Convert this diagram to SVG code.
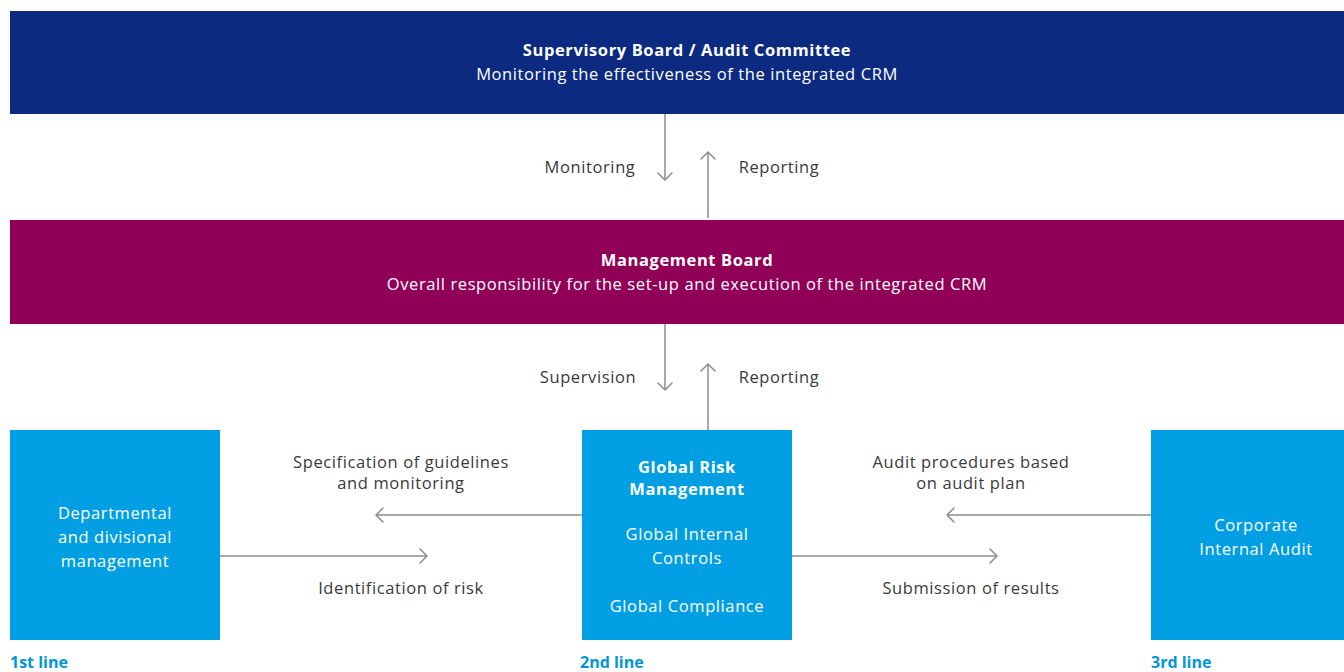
<svg xmlns="http://www.w3.org/2000/svg" width="1344" height="672" viewBox="0 0 1344 672">
<defs>
<style>
.t{font-family:"Open Sans","Liberation Sans",sans-serif;font-size:16.5px;letter-spacing:0.6px;text-anchor:middle}
.w{fill:#ffffff}
.d{fill:#3a3a3a}
.b{font-weight:bold}
.ln{font-family:"Open Sans","Liberation Sans",sans-serif;font-size:16px;font-weight:bold;fill:#0096d8}
.c{stroke:#8c8c8c;stroke-width:1.5;fill:none}
.h{stroke:#8c8c8c;stroke-width:1.5;fill:none;stroke-linecap:round;stroke-linejoin:round}
</style>
</defs>
<rect width="1344" height="672" fill="#ffffff"/>
<g id="supervisory">
<rect x="10" y="11" width="1334" height="103" fill="#0c2a80"/>
<text class="t w b" x="687" y="56">Supervisory Board / Audit Committee</text>
<text class="t w" x="687" y="80">Monitoring the effectiveness of the integrated CRM</text>
</g>
<g id="management">
<rect x="10" y="220" width="1334" height="104" fill="#8f0056"/>
<text class="t w b" x="687" y="266">Management Board</text>
<text class="t w" x="687" y="290">Overall responsibility for the set-up and execution of the integrated CRM</text>
</g>
<g id="first">
<rect x="10" y="430" width="210" height="210" fill="#009fe3"/>
<text class="t w" x="115" y="519">Departmental</text>
<text class="t w" x="115" y="543">and divisional</text>
<text class="t w" x="115" y="567">management</text>
<text class="ln" x="10" y="668">1st line</text>
</g>
<g id="second">
<rect x="582" y="430" width="210" height="210" fill="#009fe3"/>
<text class="t w b" x="687" y="473">Global Risk</text>
<text class="t w b" x="687" y="495">Management</text>
<text class="t w" x="687" y="540">Global Internal</text>
<text class="t w" x="687" y="564">Controls</text>
<text class="t w" x="687" y="612">Global Compliance</text>
<text class="ln" x="580" y="668">2nd line</text>
</g>
<g id="third">
<rect x="1151" y="430" width="193" height="210" fill="#009fe3"/>
<text class="t w" x="1256" y="531">Corporate</text>
<text class="t w" x="1256" y="555">Internal Audit</text>
<text class="ln" x="1151" y="668">3rd line</text>
</g>
<g id="connectors">
<line class="c" x1="665" y1="114" x2="665" y2="180"/>
<polyline class="h" points="658,173 665,180 672,173"/>
<line class="c" x1="708" y1="218" x2="708" y2="152"/>
<polyline class="h" points="701,159 708,152 715,159"/>
<text class="t d" x="590" y="173">Monitoring</text>
<text class="t d" x="779" y="173">Reporting</text>
<line class="c" x1="665" y1="324" x2="665" y2="390"/>
<polyline class="h" points="658,383 665,390 672,383"/>
<line class="c" x1="708" y1="430" x2="708" y2="364"/>
<polyline class="h" points="701,371 708,364 715,371"/>
<text class="t d" x="588" y="383">Supervision</text>
<text class="t d" x="779" y="383">Reporting</text>
<line class="c" x1="582" y1="515" x2="376" y2="515"/>
<polyline class="h" points="383,508 376,515 383,522"/>
<line class="c" x1="220" y1="556" x2="427" y2="556"/>
<polyline class="h" points="420,549 427,556 420,563"/>
<text class="t d" x="401" y="468">Specification of guidelines</text>
<text class="t d" x="401" y="489">and monitoring</text>
<text class="t d" x="401" y="594">Identification of risk</text>
<line class="c" x1="1151" y1="515" x2="947" y2="515"/>
<polyline class="h" points="954,508 947,515 954,522"/>
<line class="c" x1="792" y1="556" x2="997" y2="556"/>
<polyline class="h" points="990,549 997,556 990,563"/>
<text class="t d" x="971" y="468">Audit procedures based</text>
<text class="t d" x="971" y="489">on audit plan</text>
<text class="t d" x="971" y="594">Submission of results</text>
</g>
</svg>
